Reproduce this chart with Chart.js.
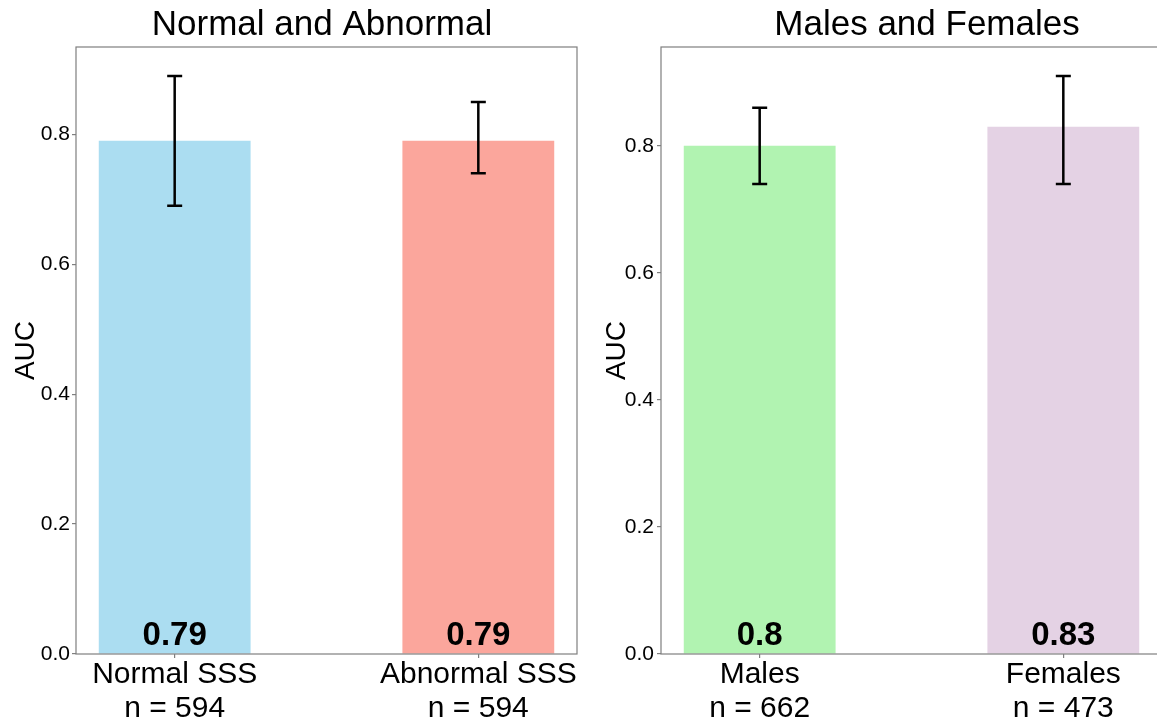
<!DOCTYPE html>
<html>
<head>
<meta charset="utf-8">
<script src="https://cdn.jsdelivr.net/npm/chart.js@4/dist/chart.umd.min.js"></script>
<style>
  html, body { margin: 0; padding: 0; background: #fff; overflow: hidden; width: 1157px; height: 725px; }
  canvas { position: absolute; top: 0; }
  #c1 { left: 0px; }
  #c2 { left: 600px; }
</style>
</head>
<body>
<canvas id="c1" width="644" height="725"></canvas>
<canvas id="c2" width="654" height="725"></canvas>
<script>
// ---- data ----
const titleLeft = 'Normal and Abnormal';
const groupsLeft = ['Normal SSS', 'Abnormal SSS'];
const countsLeft = [594, 594];
const aucLeft = [0.79, 0.79];
const lowLeft = [0.69, 0.74];
const highLeft = [0.89, 0.85];

const titleRight = 'Males and Females';
const groupsRight = ['Males', 'Females'];
const countsRight = [662, 473];
const aucRight = [0.8, 0.83];
const lowRight = [0.74, 0.74];
const highRight = [0.86, 0.91];

const yTitle = 'AUC';

// ---- styles ----
const FONT = '"Liberation Sans", Arial, Helvetica, sans-serif';
const colorsLeft = ['#ABDDF1', '#FBA69C'];
const colorsRight = ['#B1F3B1', '#E4D2E4'];

const errorBarPlugin = {
  id: 'errorBars',
  afterDatasetsDraw(chart, args, opts) {
    const ctx = chart.ctx;
    const meta = chart.getDatasetMeta(0);
    const ys = chart.scales.y;
    ctx.save();
    meta.data.forEach((bar, i) => {
      const x = bar.x;
      const yLo = ys.getPixelForValue(opts.low[i]);
      const yHi = ys.getPixelForValue(opts.high[i]);
      ctx.strokeStyle = '#000';
      ctx.lineWidth = 2.5;
      ctx.beginPath();
      ctx.moveTo(x, yLo); ctx.lineTo(x, yHi);
      ctx.moveTo(x - 7.5, yLo); ctx.lineTo(x + 7.5, yLo);
      ctx.moveTo(x - 7.5, yHi); ctx.lineTo(x + 7.5, yHi);
      ctx.stroke();
      // value label
      ctx.fillStyle = '#000';
      ctx.font = 'bold 33px ' + FONT;
      ctx.textAlign = 'center';
      ctx.textBaseline = 'alphabetic';
      ctx.fillText(String(opts.values[i]), x, ys.getPixelForValue(0) - 9);
    });
    ctx.restore();
  },
  afterDraw(chart) {
    const a = chart.chartArea;
    const ctx = chart.ctx;
    ctx.save();
    ctx.strokeStyle = '#7f7f7f';
    ctx.lineWidth = 1.2;
    ctx.strokeRect(a.left, a.top, a.right - a.left, a.bottom - a.top);
    ctx.restore();
  }
};

function makeChart(id, title, groups, counts, auc, low, high, colors, yMax, yAxisWidth, yTitlePad, yTickPad, rightSpace) {
  const points = groups.map((g, i) => ({ x: i, y: auc[i] }));
  return new Chart(document.getElementById(id), {
    type: 'bar',
    data: {
      datasets: [{
        data: points,
        xAxisID: 'x',
        yAxisID: 'y',
        backgroundColor: colors,
        borderWidth: 0,
        categoryPercentage: 1.0,
        barPercentage: 0.5
      }]
    },
    plugins: [errorBarPlugin],
    options: {
      responsive: false,
      animation: false,
      devicePixelRatio: 1,
      layout: { padding: 0 },
      plugins: {
        legend: { display: false },
        tooltip: { enabled: false },
        title: {
          display: true,
          text: title,
          color: '#000',
          font: { family: FONT, size: 35, weight: 'normal' },
          padding: { top: 4, bottom: 1 }
        },
        errorBars: { low: low, high: high, values: auc }
      },
      scales: {
        x: {
          type: 'linear',
          offset: false,
          bounds: 'data',
          min: -0.325,
          max: 1.325,
          afterBuildTicks: (scale) => { scale.ticks = groups.map((g, i) => ({ value: i })); },
          afterFit: (scale) => { scale.height = 71; },
          border: { display: false },
          grid: { display: true, offset: false, drawOnChartArea: false, drawTicks: true, tickLength: 4, color: '#7f7f7f', lineWidth: 1.2 },
          ticks: {
            autoSkip: false,
            maxRotation: 0,
            minRotation: 0,
            padding: 0,
            color: '#000',
            font: { family: FONT, size: 30, lineHeight: 1.133 },
            callback: (value, index) => [groups[index], 'n = ' + counts[index]]
          }
        },
        y: {
          position: 'left',
          min: 0,
          max: yMax,
          afterFit: (scale) => { scale.width = yAxisWidth; },
          border: { display: false },
          grid: { display: true, drawOnChartArea: false, drawTicks: true, tickLength: 4, color: '#7f7f7f', lineWidth: 1.2 },
          title: {
            display: true,
            text: yTitle,
            color: '#000',
            font: { family: FONT, size: 28, weight: 'normal' },
            padding: { top: yTitlePad, bottom: 0 }
          },
          ticks: {
            stepSize: 0.2,
            includeBounds: false,
            padding: yTickPad,
            color: '#000',
            font: { family: FONT, size: 21 },
            callback: (v) => Number(v).toFixed(1)
          }
        },
        yR: {
          position: 'right',
          display: true,
          min: 0,
          max: yMax,
          afterFit: (scale) => { scale.width = rightSpace; },
          border: { display: false },
          grid: { display: false },
          ticks: { display: false }
        }
      }
    }
  });
}

makeChart('c1', titleLeft, groupsLeft, countsLeft, aucLeft, lowLeft, highLeft, colorsLeft, 0.9345, 76, 9, 2, 67);
makeChart('c2', titleRight, groupsRight, countsRight, aucRight, lowRight, highRight, colorsRight, 0.9555, 61, 0, 3, 92);
</script>
</body>
</html>
